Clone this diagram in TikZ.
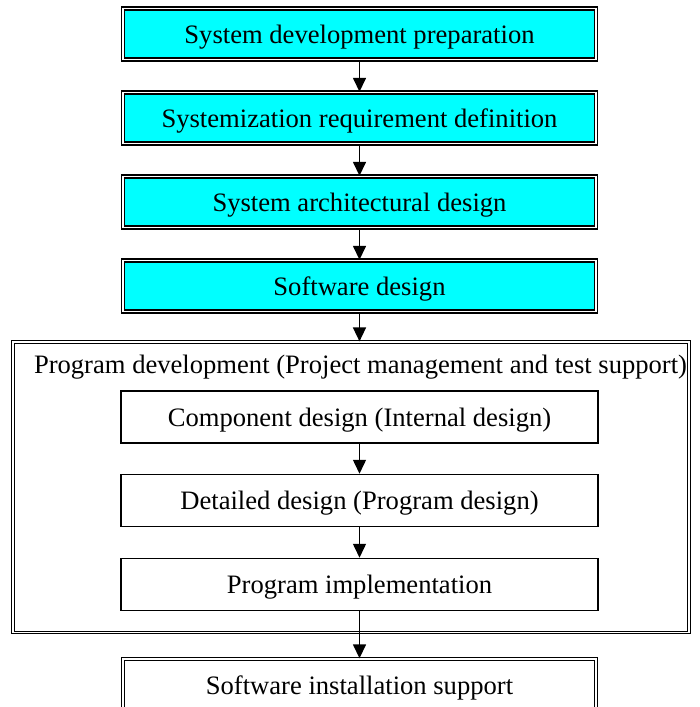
\documentclass[tikz,border=0pt]{standalone}
\usepackage{fontspec}
\setmainfont{Liberation Serif}
\usetikzlibrary{arrows.meta}
\definecolor{boxcyan}{RGB}{0,255,255}
\begin{document}
\begin{tikzpicture}[x=1pt,y=-1pt,
  txt/.style={font=\fontsize{26.6}{30}\selectfont, inner sep=0pt, text height=18pt, text depth=0pt},
  cyanbox/.style={txt, draw=black, line width=1.4pt, double=white, double distance=1.6pt, fill=boxcyan, minimum width=473pt, minimum height=51pt},
  plainbox/.style={txt, draw=black, line width=1.5pt, fill=white, minimum width=477pt, minimum height=52pt},
  framebox/.style={draw=black, line width=1.2pt, double=white, double distance=1.4pt, minimum width=676pt, minimum height=290.5pt, inner sep=0pt},
  lastbox/.style={txt, draw=black, line width=1.4pt, double=white, double distance=1.6pt, fill=white, minimum width=473pt, minimum height=52pt},
  flow/.style={draw=black, line width=1.5pt, -{Triangle[width=13pt,length=14pt]}}]
\useasboundingbox (0,0) rectangle (699,707);
\node[cyanbox] (b1) at (359.5,34) {System development preparation};
\node[cyanbox] (b2) at (359.5,118) {Systemization requirement definition};
\node[cyanbox] (b3) at (359.5,202) {System architectural design};
\node[cyanbox] (b4) at (359.5,286) {Software design};
\node[framebox] (frame) at (351,487.25) {};
\node[txt] (title) at (360.5,364) {Program development (Project management and test support)};
\node[plainbox] (c1) at (359.5,417) {Component design (Internal design)};
\node[plainbox] (c2) at (359.5,500.5) {Detailed design (Program design)};
\node[plainbox] (c3) at (359.5,584.5) {Program implementation};
\node[lastbox] (b5) at (359.5,685) {Software installation support};
\draw[flow] (b1.south) -- (b2.north);
\draw[flow] (b2.south) -- (b3.north);
\draw[flow] (b3.south) -- (b4.north);
\draw[flow] (b4.south) -- (b4.south |- frame.north);
\draw[flow] (c1.south) -- (c2.north);
\draw[flow] (c2.south) -- (c3.north);
\draw[flow] (c3.south) -- (b5.north);
\end{tikzpicture}
\end{document}
